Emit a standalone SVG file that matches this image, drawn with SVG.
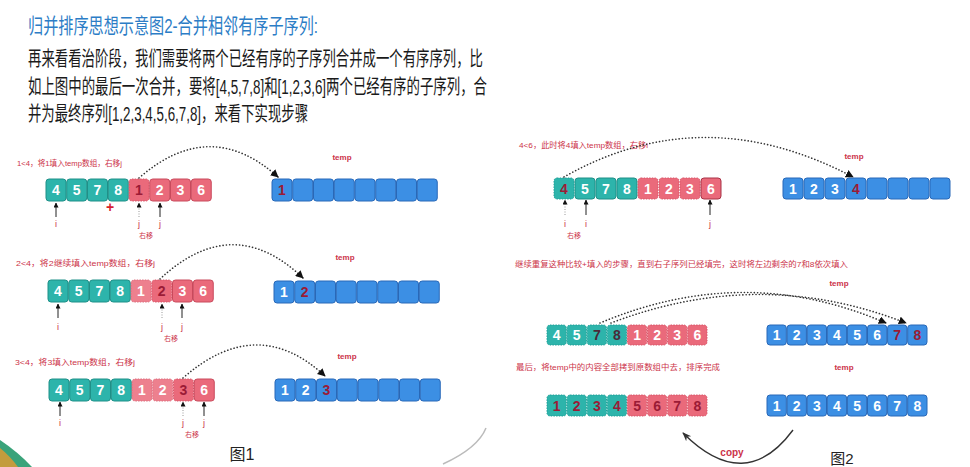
<svg xmlns="http://www.w3.org/2000/svg" width="970" height="467" viewBox="0 0 970 467">
<defs>
<marker id="ah" viewBox="0 0 10 10" refX="9" refY="5" markerWidth="5" markerHeight="5" orient="auto" markerUnits="userSpaceOnUse"><path d="M0,0 L10,5 L0,10 z" fill="#111"/></marker>
<marker id="ahc" viewBox="0 0 10 10" refX="9" refY="5" markerWidth="8" markerHeight="8" orient="auto" markerUnits="userSpaceOnUse"><path d="M0,0 L10,5 L0,10 z" fill="#111"/></marker>
<marker id="ahcopy" viewBox="0 0 10 10" refX="9" refY="5" markerWidth="9" markerHeight="9" orient="auto" markerUnits="userSpaceOnUse"><path d="M0,1 L10,5 L0,9 L3,5 z" fill="#333"/></marker>
</defs>
<style>
text{font-family:"Liberation Sans","Noto Sans CJK SC",sans-serif}
.title{fill:#2c7dc6;font-size:21px}
.body{fill:#1a1a1a;font-size:20px}
.lab{fill:#cc3349;font-size:8px}
.tmp{fill:#cc3349;font-size:8px;font-weight:bold;text-anchor:middle}
.ij{fill:#cc3349;font-size:9px;text-anchor:middle}
.ry{fill:#cc3349;font-size:7px;text-anchor:middle}
.t{fill:#2db4ab;stroke:#1f9088;stroke-width:1}
.p{fill:#ea6a7b;stroke:#c94a5c;stroke-width:1}
.b{fill:#3c8fe4;stroke:#2868b8;stroke-width:1}
.dt{stroke-dasharray:1.5 1.2;stroke:#21a098}
.dp{stroke-dasharray:1.5 1.2;stroke:#d9576a}
.n{font-size:14px;font-weight:bold;text-anchor:middle;fill:#fff}
.r{fill:#9b1b36}
.k{fill:#4a2a38}
.ua{stroke:#222;stroke-width:1;fill:none}
.uad{stroke:#999;stroke-width:1;stroke-dasharray:1 1.5;fill:none}
.cv{stroke:#333;stroke-width:1.6;stroke-dasharray:0.1 3.2;stroke-linecap:round;fill:none}
</style>
<g id="deco">
<path d="M0,440 Q18,452 32,467 L0,467 z" fill="#3aa37a"/>
<path d="M0,448 Q10,456 18,467 L0,467 z" fill="#e69a2e" opacity="0.8"/>
<path d="M443,464 Q478,448 486,428" stroke="#bbb" stroke-width="1.5" fill="none"/>
</g>
<g id="heading">
<text class="title" x="28" y="33" textLength="290" lengthAdjust="spacingAndGlyphs">归并排序思想示意图2-合并相邻有序子序列:</text>
<text class="body" x="28" y="66" textLength="455" lengthAdjust="spacingAndGlyphs">再来看看治阶段，我们需要将两个已经有序的子序列合并成一个有序序列，比</text>
<text class="body" x="28" y="94" textLength="459" lengthAdjust="spacingAndGlyphs">如上图中的最后一次合并，要将[4,5,7,8]和[1,2,3,6]两个已经有序的子序列，合</text>
<text class="body" x="28" y="121" textLength="280" lengthAdjust="spacingAndGlyphs">并为最终序列[1,2,3,4,5,6,7,8]，来看下实现步骤</text>
</g>
<g id="fig1">
<text class="lab" x="17" y="166" textLength="105" lengthAdjust="spacingAndGlyphs">1&lt;4，将1填入temp数组，右移j</text>
<text class="lab" x="16" y="266" textLength="139" lengthAdjust="spacingAndGlyphs">2&lt;4，将2继续填入temp数组，右移j</text>
<text class="lab" x="15" y="365" textLength="120" lengthAdjust="spacingAndGlyphs">3&lt;4，将3填入temp数组，右移j</text>
<text class="tmp" x="342" y="160">temp</text>
<text class="tmp" x="345" y="260">temp</text>
<text class="tmp" x="347" y="359">temp</text>
<text x="242" y="460" font-size="16" text-anchor="middle" fill="#222">图1</text>
</g>
<g id="rowA" transform="translate(46,179)">
<rect class="t" x="0" y="0" width="20" height="22" rx="3"/><rect class="t" x="20.75" y="0" width="20" height="22" rx="3"/><rect class="t" x="41.5" y="0" width="20" height="22" rx="3"/><rect class="t" x="62.25" y="0" width="20" height="22" rx="3"/>
<rect class="p dp" x="83" y="0" width="20" height="22" rx="3"/><rect class="p" x="103.75" y="0" width="20" height="22" rx="3"/><rect class="p" x="124.5" y="0" width="20" height="22" rx="3"/><rect class="p" x="145.25" y="0" width="20" height="22" rx="3"/>
<text class="n" x="10" y="16">4</text><text class="n" x="30.75" y="16">5</text><text class="n" x="51.5" y="16">7</text><text class="n" x="72.25" y="16">8</text>
<text class="n r" x="93" y="16">1</text><text class="n" x="113.75" y="16">2</text><text class="n" x="134.5" y="16">3</text><text class="n" x="155.25" y="16">6</text>
<text x="64" y="33" font-size="14" font-weight="bold" fill="#d61f2f" text-anchor="middle">+</text>
</g>
<g id="tempA" transform="translate(272,179)">
<rect class="b" x="0" y="0" width="20" height="22" rx="3"/><rect class="b" x="20.75" y="0" width="20" height="22" rx="3"/><rect class="b" x="41.5" y="0" width="20" height="22" rx="3"/><rect class="b" x="62.25" y="0" width="20" height="22" rx="3"/><rect class="b" x="83" y="0" width="20" height="22" rx="3"/><rect class="b" x="103.75" y="0" width="20" height="22" rx="3"/><rect class="b" x="124.5" y="0" width="20" height="22" rx="3"/><rect class="b" x="145.25" y="0" width="20" height="22" rx="3"/>
<text class="n r" x="10" y="16">1</text>
</g>
<g id="rowB" transform="translate(48,280)">
<rect class="t" x="0" y="0" width="20" height="22" rx="3"/><rect class="t" x="20.75" y="0" width="20" height="22" rx="3"/><rect class="t" x="41.5" y="0" width="20" height="22" rx="3"/><rect class="t" x="62.25" y="0" width="20" height="22" rx="3"/>
<rect class="p dp" x="83" y="0" width="20" height="22" rx="3" opacity="0.85"/><rect class="p dp" x="103.75" y="0" width="20" height="22" rx="3"/><rect class="p" x="124.5" y="0" width="20" height="22" rx="3"/><rect class="p" x="145.25" y="0" width="20" height="22" rx="3"/>
<text class="n" x="10" y="16">4</text><text class="n" x="30.75" y="16">5</text><text class="n" x="51.5" y="16">7</text><text class="n" x="72.25" y="16">8</text>
<text class="n" x="93" y="16">1</text><text class="n r" x="113.75" y="16">2</text><text class="n" x="134.5" y="16">3</text><text class="n" x="155.25" y="16">6</text>
</g>
<g id="tempB" transform="translate(274,281)">
<rect class="b" x="0" y="0" width="20" height="22" rx="3"/><rect class="b" x="20.75" y="0" width="20" height="22" rx="3"/><rect class="b" x="41.5" y="0" width="20" height="22" rx="3"/><rect class="b" x="62.25" y="0" width="20" height="22" rx="3"/><rect class="b" x="83" y="0" width="20" height="22" rx="3"/><rect class="b" x="103.75" y="0" width="20" height="22" rx="3"/><rect class="b" x="124.5" y="0" width="20" height="22" rx="3"/><rect class="b" x="145.25" y="0" width="20" height="22" rx="3"/>
<text class="n" x="10" y="16">1</text><text class="n r" x="30.75" y="16">2</text>
</g>
<g id="rowC" transform="translate(49,379)">
<rect class="t" x="0" y="0" width="20" height="22" rx="3"/><rect class="t" x="20.75" y="0" width="20" height="22" rx="3"/><rect class="t" x="41.5" y="0" width="20" height="22" rx="3"/><rect class="t" x="62.25" y="0" width="20" height="22" rx="3"/>
<rect class="p dp" x="83" y="0" width="20" height="22" rx="3" opacity="0.85"/><rect class="p dp" x="103.75" y="0" width="20" height="22" rx="3" opacity="0.85"/><rect class="p dp" x="124.5" y="0" width="20" height="22" rx="3"/><rect class="p" x="145.25" y="0" width="20" height="22" rx="3"/>
<text class="n" x="10" y="16">4</text><text class="n" x="30.75" y="16">5</text><text class="n" x="51.5" y="16">7</text><text class="n" x="72.25" y="16">8</text>
<text class="n" x="93" y="16">1</text><text class="n" x="113.75" y="16">2</text><text class="n r" x="134.5" y="16">3</text><text class="n" x="155.25" y="16">6</text>
</g>
<g id="tempC" transform="translate(275,379)">
<rect class="b" x="0" y="0" width="20" height="22" rx="3"/><rect class="b" x="20.75" y="0" width="20" height="22" rx="3"/><rect class="b" x="41.5" y="0" width="20" height="22" rx="3"/><rect class="b" x="62.25" y="0" width="20" height="22" rx="3"/><rect class="b" x="83" y="0" width="20" height="22" rx="3"/><rect class="b" x="103.75" y="0" width="20" height="22" rx="3"/><rect class="b" x="124.5" y="0" width="20" height="22" rx="3"/><rect class="b" x="145.25" y="0" width="20" height="22" rx="3"/>
<text class="n" x="10" y="16">1</text><text class="n" x="30.75" y="16">2</text><text class="n r" x="51.5" y="16">3</text>
</g>
<g id="fig2">
<text class="lab" x="519" y="148" textLength="129" lengthAdjust="spacingAndGlyphs">4&lt;6，此时将4填入temp数组，右移i</text>
<text class="lab" x="515" y="267" textLength="333" lengthAdjust="spacingAndGlyphs">继续重复这种比较+填入的步骤，直到右子序列已经填完，这时将左边剩余的7和8依次填入</text>
<text class="lab" x="516" y="370" textLength="204" lengthAdjust="spacingAndGlyphs">最后，将temp中的内容全部拷到原数组中去，排序完成</text>
<text class="tmp" x="854" y="159">temp</text>
<text class="tmp" x="839" y="286">temp</text>
<text class="tmp" x="844" y="370">temp</text>
<text x="732" y="456" font-size="10" font-weight="bold" fill="#cc3349" text-anchor="middle">copy</text>
<text x="842" y="464" font-size="15" text-anchor="middle" fill="#222">图2</text>
</g>
<g id="rowD" transform="translate(554,178)">
<rect class="t dt" x="0" y="0" width="20" height="21" rx="3"/><rect class="t" x="21" y="0" width="20" height="21" rx="3"/><rect class="t" x="42" y="0" width="20" height="21" rx="3"/><rect class="t" x="63" y="0" width="20" height="21" rx="3"/>
<rect class="p dp" x="84" y="0" width="20" height="21" rx="3"/><rect class="p dp" x="105" y="0" width="20" height="21" rx="3"/><rect class="p dp" x="126" y="0" width="20" height="21" rx="3"/><rect class="p" x="147" y="0" width="20" height="21" rx="3" style="stroke:#a83246"/>
<text class="n r" x="10" y="15.5">4</text><text class="n" x="31" y="15.5">5</text><text class="n" x="52" y="15.5">7</text><text class="n" x="73" y="15.5">8</text>
<text class="n" x="94" y="15.5">1</text><text class="n" x="115" y="15.5">2</text><text class="n" x="136" y="15.5">3</text><text class="n" x="157" y="15.5">6</text>
</g>
<g id="tempD" transform="translate(783,178)">
<rect class="b" x="0" y="0" width="20" height="21" rx="3"/><rect class="b" x="21" y="0" width="20" height="21" rx="3"/><rect class="b" x="42" y="0" width="20" height="21" rx="3"/><rect class="b" x="63" y="0" width="20" height="21" rx="3"/><rect class="b" x="84" y="0" width="20" height="21" rx="3"/><rect class="b" x="105" y="0" width="20" height="21" rx="3"/><rect class="b" x="126" y="0" width="20" height="21" rx="3"/><rect class="b" x="147" y="0" width="20" height="21" rx="3"/>
<text class="n" x="10" y="15.5">1</text><text class="n" x="31" y="15.5">2</text><text class="n" x="52" y="15.5">3</text><text class="n r" x="73" y="15.5">4</text>
</g>
<g id="rowE" transform="translate(547,325)">
<rect class="t dt" x="0" y="0" width="19.3" height="20" rx="3"/><rect class="t dt" x="20.1" y="0" width="19.3" height="20" rx="3"/><rect class="t dt" x="40.2" y="0" width="19.3" height="20" rx="3"/><rect class="t dt" x="60.3" y="0" width="19.3" height="20" rx="3"/>
<rect class="p dp" x="80.4" y="0" width="19.3" height="20" rx="3"/><rect class="p dp" x="100.5" y="0" width="19.3" height="20" rx="3"/><rect class="p dp" x="120.6" y="0" width="19.3" height="20" rx="3"/><rect class="p dp" x="140.7" y="0" width="19.3" height="20" rx="3"/>
<text class="n" x="9.65" y="15">4</text><text class="n" x="29.75" y="15">5</text><text class="n k" x="49.85" y="15">7</text><text class="n k" x="69.95" y="15">8</text>
<text class="n" x="90.05" y="15">1</text><text class="n" x="110.15" y="15">2</text><text class="n" x="130.25" y="15">3</text><text class="n" x="150.35" y="15">6</text>
</g>
<g id="tempE" transform="translate(767,325)">
<rect class="b" x="0" y="0" width="19.3" height="20" rx="3"/><rect class="b" x="20.1" y="0" width="19.3" height="20" rx="3"/><rect class="b" x="40.2" y="0" width="19.3" height="20" rx="3"/><rect class="b" x="60.3" y="0" width="19.3" height="20" rx="3"/><rect class="b" x="80.4" y="0" width="19.3" height="20" rx="3"/><rect class="b" x="100.5" y="0" width="19.3" height="20" rx="3"/><rect class="b" x="120.6" y="0" width="19.3" height="20" rx="3"/><rect class="b" x="140.7" y="0" width="19.3" height="20" rx="3"/>
<text class="n" x="9.65" y="15">1</text><text class="n" x="29.75" y="15">2</text><text class="n" x="49.85" y="15">3</text><text class="n" x="69.95" y="15">4</text><text class="n" x="90.05" y="15">5</text><text class="n" x="110.15" y="15">6</text><text class="n r" x="130.25" y="15">7</text><text class="n r" x="150.35" y="15">8</text>
</g>
<g id="rowF" transform="translate(547,395)">
<rect class="t dt" x="0" y="0" width="19.3" height="21" rx="3"/><rect class="t dt" x="20.1" y="0" width="19.3" height="21" rx="3"/><rect class="t dt" x="40.2" y="0" width="19.3" height="21" rx="3"/><rect class="t dt" x="60.3" y="0" width="19.3" height="21" rx="3"/>
<rect class="p dp" x="80.4" y="0" width="19.3" height="21" rx="3"/><rect class="p dp" x="100.5" y="0" width="19.3" height="21" rx="3"/><rect class="p dp" x="120.6" y="0" width="19.3" height="21" rx="3"/><rect class="p dp" x="140.7" y="0" width="19.3" height="21" rx="3"/>
<text class="n r" x="9.65" y="15.5">1</text><text class="n r" x="29.75" y="15.5">2</text><text class="n r" x="49.85" y="15.5">3</text><text class="n r" x="69.95" y="15.5">4</text>
<text class="n r" x="90.05" y="15.5">5</text><text class="n r" x="110.15" y="15.5">6</text><text class="n r" x="130.25" y="15.5">7</text><text class="n r" x="150.35" y="15.5">8</text>
</g>
<g id="tempF" transform="translate(767,395)">
<rect class="b" x="0" y="0" width="19.3" height="21" rx="3"/><rect class="b" x="20.1" y="0" width="19.3" height="21" rx="3"/><rect class="b" x="40.2" y="0" width="19.3" height="21" rx="3"/><rect class="b" x="60.3" y="0" width="19.3" height="21" rx="3"/><rect class="b" x="80.4" y="0" width="19.3" height="21" rx="3"/><rect class="b" x="100.5" y="0" width="19.3" height="21" rx="3"/><rect class="b" x="120.6" y="0" width="19.3" height="21" rx="3"/><rect class="b" x="140.7" y="0" width="19.3" height="21" rx="3"/>
<text class="n" x="9.65" y="15.5">1</text><text class="n" x="29.75" y="15.5">2</text><text class="n" x="49.85" y="15.5">3</text><text class="n" x="69.95" y="15.5">4</text><text class="n" x="90.05" y="15.5">5</text><text class="n" x="110.15" y="15.5">6</text><text class="n" x="130.25" y="15.5">7</text><text class="n" x="150.35" y="15.5">8</text>
</g>
<g id="pointers">
<line class="ua" x1="56" y1="217" x2="56" y2="203" marker-end="url(#ah)"/><text class="ij" x="56" y="227">i</text>
<line class="uad" x1="139" y1="217" x2="139" y2="203" marker-end="url(#ah)"/><text class="ij" x="139" y="227">j</text>
<line class="ua" x1="160" y1="217" x2="160" y2="203" marker-end="url(#ah)"/><text class="ij" x="160" y="227">j</text>
<text class="ry" x="146" y="238">右移</text>
<line class="ua" x1="58" y1="318" x2="58" y2="304" marker-end="url(#ah)"/><text class="ij" x="58" y="330">i</text>
<line class="uad" x1="162" y1="318" x2="162" y2="304" marker-end="url(#ah)"/><text class="ij" x="162" y="330">j</text>
<line class="ua" x1="182" y1="318" x2="182" y2="304" marker-end="url(#ah)"/><text class="ij" x="182" y="330">j</text>
<text class="ry" x="171" y="341">右移</text>
<line class="ua" x1="60" y1="416" x2="60" y2="402" marker-end="url(#ah)"/><text class="ij" x="60" y="426">i</text>
<line class="uad" x1="183" y1="416" x2="183" y2="402" marker-end="url(#ah)"/><text class="ij" x="183" y="426">j</text>
<line class="ua" x1="204" y1="416" x2="204" y2="402" marker-end="url(#ah)"/><text class="ij" x="204" y="426">j</text>
<text class="ry" x="192" y="437">右移</text>
<line class="uad" x1="565" y1="215" x2="565" y2="200" marker-end="url(#ah)"/><text class="ij" x="565" y="227">i</text>
<line class="ua" x1="586" y1="215" x2="586" y2="200" marker-end="url(#ah)"/><text class="ij" x="586" y="227">i</text>
<line class="ua" x1="710" y1="215" x2="710" y2="200" marker-end="url(#ah)"/><text class="ij" x="710" y="227">j</text>
<text class="ry" x="574" y="238">右移</text>
</g>
<g id="connectors">
<path class="cv" d="M139,178 Q210,116 278,177" marker-end="url(#ahc)"/>
<path class="cv" d="M160,279 Q233,211 303,278" marker-end="url(#ahc)"/>
<path class="cv" d="M183,378 Q257,313 325,376" marker-end="url(#ahc)"/>
<path class="cv" d="M564,177 Q703,98 853,177" marker-end="url(#ahc)"/>
<path class="cv" d="M600,323 Q745,262 886,323" marker-end="url(#ahc)"/>
<path class="cv" d="M611,323 Q760,266 906,323" marker-end="url(#ahc)"/>
<path d="M793,430 Q745,495 683,433" stroke="#333" stroke-width="1.4" fill="none" marker-end="url(#ahcopy)"/>
</g>
</svg>
